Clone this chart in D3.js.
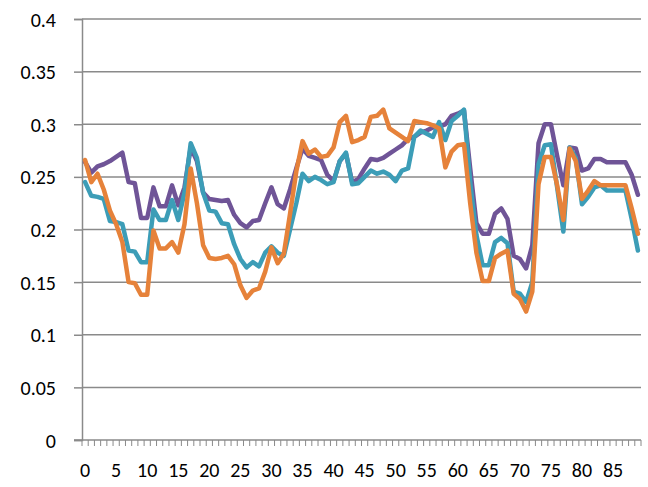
<!DOCTYPE html>
<html lang="en">
<head>
    <meta charset="UTF-8">
    <title>Three series line chart</title>
    <script src="https://cdnjs.cloudflare.com/ajax/libs/d3/7.8.5/d3.min.js"></script>
    <style>
        body {
            margin: 0;
            background: #ffffff;
        }
        svg text {
            font-family: Carlito, Lato, 'Liberation Sans', sans-serif;
            font-size: 20px;
            fill: #000000;
        }
    </style>
</head>
<body>
    <div id="chart"></div>

    <script>
        // Data
        const categories = d3.range(0, 90);
        const xTickLabels = d3.range(0, 90, 5);
        const yTicks = [0, 0.05, 0.1, 0.15, 0.2, 0.25, 0.3, 0.35, 0.4];

        const purple = [
            0.264, 0.254, 0.260, 0.262, 0.265, 0.269, 0.273, 0.245, 0.244, 0.211,
            0.211, 0.240, 0.222, 0.222, 0.242, 0.223, 0.240, 0.278, 0.265, 0.235,
            0.229, 0.228, 0.227, 0.228, 0.214, 0.206, 0.202, 0.208, 0.209, 0.225,
            0.240, 0.224, 0.220, 0.238, 0.258, 0.277, 0.270, 0.268, 0.266, 0.252,
            0.246, 0.265, 0.272, 0.245, 0.248, 0.258, 0.267, 0.266, 0.268, 0.272,
            0.276, 0.280, 0.286, 0.288, 0.292, 0.294, 0.297, 0.298, 0.300, 0.308,
            0.310, 0.313, 0.258, 0.206, 0.196, 0.196, 0.215, 0.220, 0.210, 0.175,
            0.172, 0.163, 0.185, 0.282, 0.300, 0.300, 0.270, 0.242, 0.278, 0.277,
            0.256, 0.258, 0.267, 0.267, 0.264, 0.264, 0.264, 0.264, 0.252, 0.233
        ];

        const teal = [
            0.245, 0.232, 0.231, 0.229, 0.208, 0.207, 0.205, 0.180, 0.179, 0.169,
            0.169, 0.219, 0.209, 0.209, 0.228, 0.209, 0.235, 0.282, 0.268, 0.235,
            0.218, 0.217, 0.206, 0.205, 0.186, 0.172, 0.164, 0.169, 0.165, 0.178,
            0.184, 0.178, 0.175, 0.200, 0.225, 0.253, 0.246, 0.250, 0.247, 0.243,
            0.245, 0.265, 0.273, 0.243, 0.244, 0.250, 0.256, 0.253, 0.255, 0.252,
            0.246, 0.256, 0.258, 0.288, 0.294, 0.291, 0.288, 0.302, 0.285, 0.303,
            0.308, 0.314, 0.245, 0.195, 0.166, 0.166, 0.188, 0.192, 0.187, 0.141,
            0.139, 0.131, 0.150, 0.262, 0.280, 0.281, 0.240, 0.198, 0.278, 0.268,
            0.224, 0.231, 0.240, 0.242, 0.237, 0.237, 0.237, 0.237, 0.210, 0.180
        ];

        const orange = [
            0.266, 0.245, 0.253, 0.238, 0.218, 0.205, 0.188, 0.150, 0.149, 0.138,
            0.138, 0.199, 0.182, 0.182, 0.188, 0.178, 0.205, 0.258, 0.225, 0.185,
            0.173, 0.172, 0.173, 0.175, 0.167, 0.147, 0.135, 0.142, 0.144, 0.160,
            0.183, 0.168, 0.177, 0.215, 0.255, 0.284, 0.272, 0.276, 0.269, 0.270,
            0.278, 0.302, 0.308, 0.283, 0.285, 0.288, 0.307, 0.308, 0.314, 0.296,
            0.292, 0.288, 0.284, 0.303, 0.302, 0.301, 0.299, 0.296, 0.259, 0.274,
            0.280, 0.281, 0.225, 0.178, 0.151, 0.151, 0.173, 0.177, 0.180, 0.139,
            0.134, 0.122, 0.141, 0.243, 0.269, 0.269, 0.242, 0.209, 0.277, 0.265,
            0.229, 0.237, 0.246, 0.242, 0.242, 0.242, 0.242, 0.242, 0.220, 0.196
        ];

        const seriesList = [
            { name: "purple", values: purple, color: "#6f5497" },
            { name: "teal", values: teal, color: "#3c9db7" },
            { name: "orange", values: orange, color: "#e6823a" }
        ];

        // Layout
        const width = 648;
        const height = 487;
        const margin = { top: 19, right: 7, bottom: 47, left: 82 };
        const innerW = width - margin.left - margin.right;
        const innerH = height - margin.top - margin.bottom;

        const svg = d3.select("#chart")
            .append("svg")
            .attr("width", width)
            .attr("height", height);

        const g = svg.append("g")
            .attr("transform", `translate(${margin.left}, ${margin.top})`);

        const x = d3.scaleBand()
            .domain(categories)
            .range([0, innerW])
            .padding(0);

        const y = d3.scaleLinear()
            .domain([0, 0.4])
            .range([innerH, 0]);

        // Gridlines
        g.append("g")
            .selectAll("line")
            .data(yTicks.filter(d => d > 0))
            .join("line")
            .attr("x1", 0)
            .attr("x2", innerW)
            .attr("y1", d => y(d))
            .attr("y2", d => y(d))
            .attr("stroke", "#8a8a8a")
            .attr("stroke-width", 1.5);

        // Y axis
        const yAxis = g.append("g")
            .call(d3.axisLeft(y)
                .tickValues(yTicks)
                .tickSize(8)
                .tickPadding(18)
                .tickFormat(d => d3.format("")(+d.toFixed(2))));
        yAxis.select(".domain").attr("stroke", "#8a8a8a").attr("stroke-width", 1.5);
        yAxis.selectAll(".tick line").attr("stroke", "#8a8a8a").attr("stroke-width", 1.5);
        yAxis.selectAll("text").attr("dy", "0.35em");

        // X axis: tick marks between categories, labels every 5
        const xAxisG = g.append("g")
            .attr("transform", `translate(0, ${innerH})`);
        xAxisG.append("line")
            .attr("x1", -8)
            .attr("x2", innerW)
            .attr("stroke", "#8a8a8a")
            .attr("stroke-width", 1.5);
        xAxisG.selectAll(".xtick")
            .data(categories.concat([categories.length]))
            .join("line")
            .attr("class", "xtick")
            .attr("x1", d => d < categories.length ? x(d) : innerW)
            .attr("x2", d => d < categories.length ? x(d) : innerW)
            .attr("y1", 0)
            .attr("y2", 6)
            .attr("stroke", "#8a8a8a")
            .attr("stroke-width", 1);
        xAxisG.selectAll(".xlabel")
            .data(xTickLabels)
            .join("text")
            .attr("class", "xlabel")
            .attr("x", d => x(d) + x.bandwidth() / 2)
            .attr("y", 37)
            .attr("text-anchor", "middle")
            .text(d => d);

        // Lines
        const line = d3.line()
            .x((d, i) => x(categories[i]) + x.bandwidth() / 2)
            .y(d => y(d));

        g.selectAll(".series")
            .data(seriesList)
            .join("path")
            .attr("class", "series")
            .attr("d", d => line(d.values))
            .attr("fill", "none")
            .attr("stroke", d => d.color)
            .attr("stroke-width", 4.5)
            .attr("stroke-linejoin", "round")
            .attr("stroke-linecap", "round");
    </script>
</body>
</html>
